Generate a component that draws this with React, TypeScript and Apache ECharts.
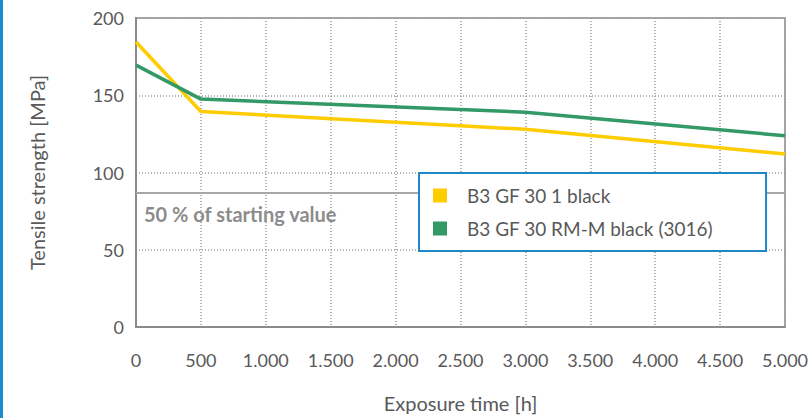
import React, { useEffect, useRef } from "react";
import * as echarts from "echarts";

const hours = [0, 500, 3000, 5000];
const seriesNames = ["B3 GF 30 1 black", "B3 GF 30 RM-M black (3016)"];
const yellowValues = [184.5, 139.5, 128, 112];
const greenValues = [169.5, 147.5, 139, 123.8];
const halfValue = 87;
const halfLabel = "50 % of starting value";
const xAxisName = "Exposure time [h]";
const yAxisName = "Tensile strength [MPa]";

const FONT = "Lato, 'Noto Sans', sans-serif";
const TEXT = "#595959";

export default function App() {
  const ref = useRef<HTMLDivElement>(null);
  useEffect(() => {
    if (!ref.current) return;
    const chart = echarts.init(ref.current, null, { renderer: "svg" });
    chart.setOption({
      animation: false,
      backgroundColor: "#ffffff",
      textStyle: { fontFamily: FONT },
      grid: {
        left: 136,
        right: 27,
        top: 18,
        bottom: 85,
        show: true,
        borderColor: "#8a8a8a",
        borderWidth: 1.5,
      },
      legend: {
        left: 419,
        top: 173,
        z: 20,
        zlevel: 1,
        orient: "vertical",
        icon: "rect",
        itemWidth: 14,
        itemHeight: 14,
        itemGap: 14,
        padding: [13, 53, 13, 14],
        borderColor: "#1f86c8",
        borderWidth: 2,
        backgroundColor: "#ffffff",
        textStyle: { fontSize: 19, color: TEXT, fontFamily: FONT, padding: [0, 0, 0, 15] },
        data: seriesNames,
      },
      xAxis: {
        type: "value",
        min: 0,
        max: 5000,
        interval: 500,
        name: xAxisName,
        nameLocation: "middle",
        nameGap: 66,
        nameTextStyle: { fontSize: 20, color: TEXT, fontFamily: FONT },
        axisLine: { show: true, lineStyle: { color: "#8a8a8a", width: 2 } },
        axisTick: { show: false },
        axisLabel: {
          fontSize: 18,
          color: TEXT,
          margin: 24,
          fontFamily: FONT,
          formatter: (v: number) => String(v).replace(/\B(?=(\d{3})+(?!\d))/g, "."),
        },
        splitLine: { show: true, lineStyle: { color: "#9a9a9a", type: [1, 2], width: 1.5 } },
      },
      yAxis: {
        type: "value",
        min: 0,
        max: 200,
        interval: 50,
        name: yAxisName,
        nameLocation: "middle",
        nameGap: 89,
        nameTextStyle: { fontSize: 20, color: TEXT, fontFamily: FONT },
        axisLine: { show: true, lineStyle: { color: "#8a8a8a", width: 2 } },
        axisTick: { show: false },
        axisLabel: { fontSize: 18, color: TEXT, margin: 12, fontFamily: FONT },
        splitLine: { show: true, lineStyle: { color: "#9a9a9a", type: [1, 2], width: 1.5 } },
      },
      series: [
        {
          name: seriesNames[0],
          type: "line",
          data: hours.map((h, i) => [h, yellowValues[i]]),
          showSymbol: false,
          symbol: "none",
          lineStyle: { color: "#ffcc00", width: 3.5 },
          itemStyle: { color: "#ffcc00" },
          z: 3,
          markLine: {
            silent: true,
            symbol: "none",
            label: { show: false },
            lineStyle: { color: "#a6a6a6", width: 2, type: "solid" },
            data: [{ yAxis: halfValue }],
          },
        },
        {
          name: seriesNames[1],
          type: "line",
          data: hours.map((h, i) => [h, greenValues[i]]),
          showSymbol: false,
          symbol: "none",
          lineStyle: { color: "#339966", width: 3.5 },
          itemStyle: { color: "#339966" },
          z: 4,
        },
      ],
      graphic: [
        {
          type: "rect",
          left: 0,
          top: 0,
          shape: { width: 3, height: 418 },
          style: { fill: "#1b8ad0" },
        },
        {
          type: "text",
          left: 144,
          top: 204,
          style: {
            text: halfLabel,
            fill: "#8c8c8c",
            font: `bold 20px ${FONT}`,
          },
        },
      ],
    });
    return () => chart.dispose();
  }, []);
  return (
    <div
      ref={ref}
      style={{ position: "fixed", left: 0, top: 0, width: 812, height: 418 }}
    />
  );
}
